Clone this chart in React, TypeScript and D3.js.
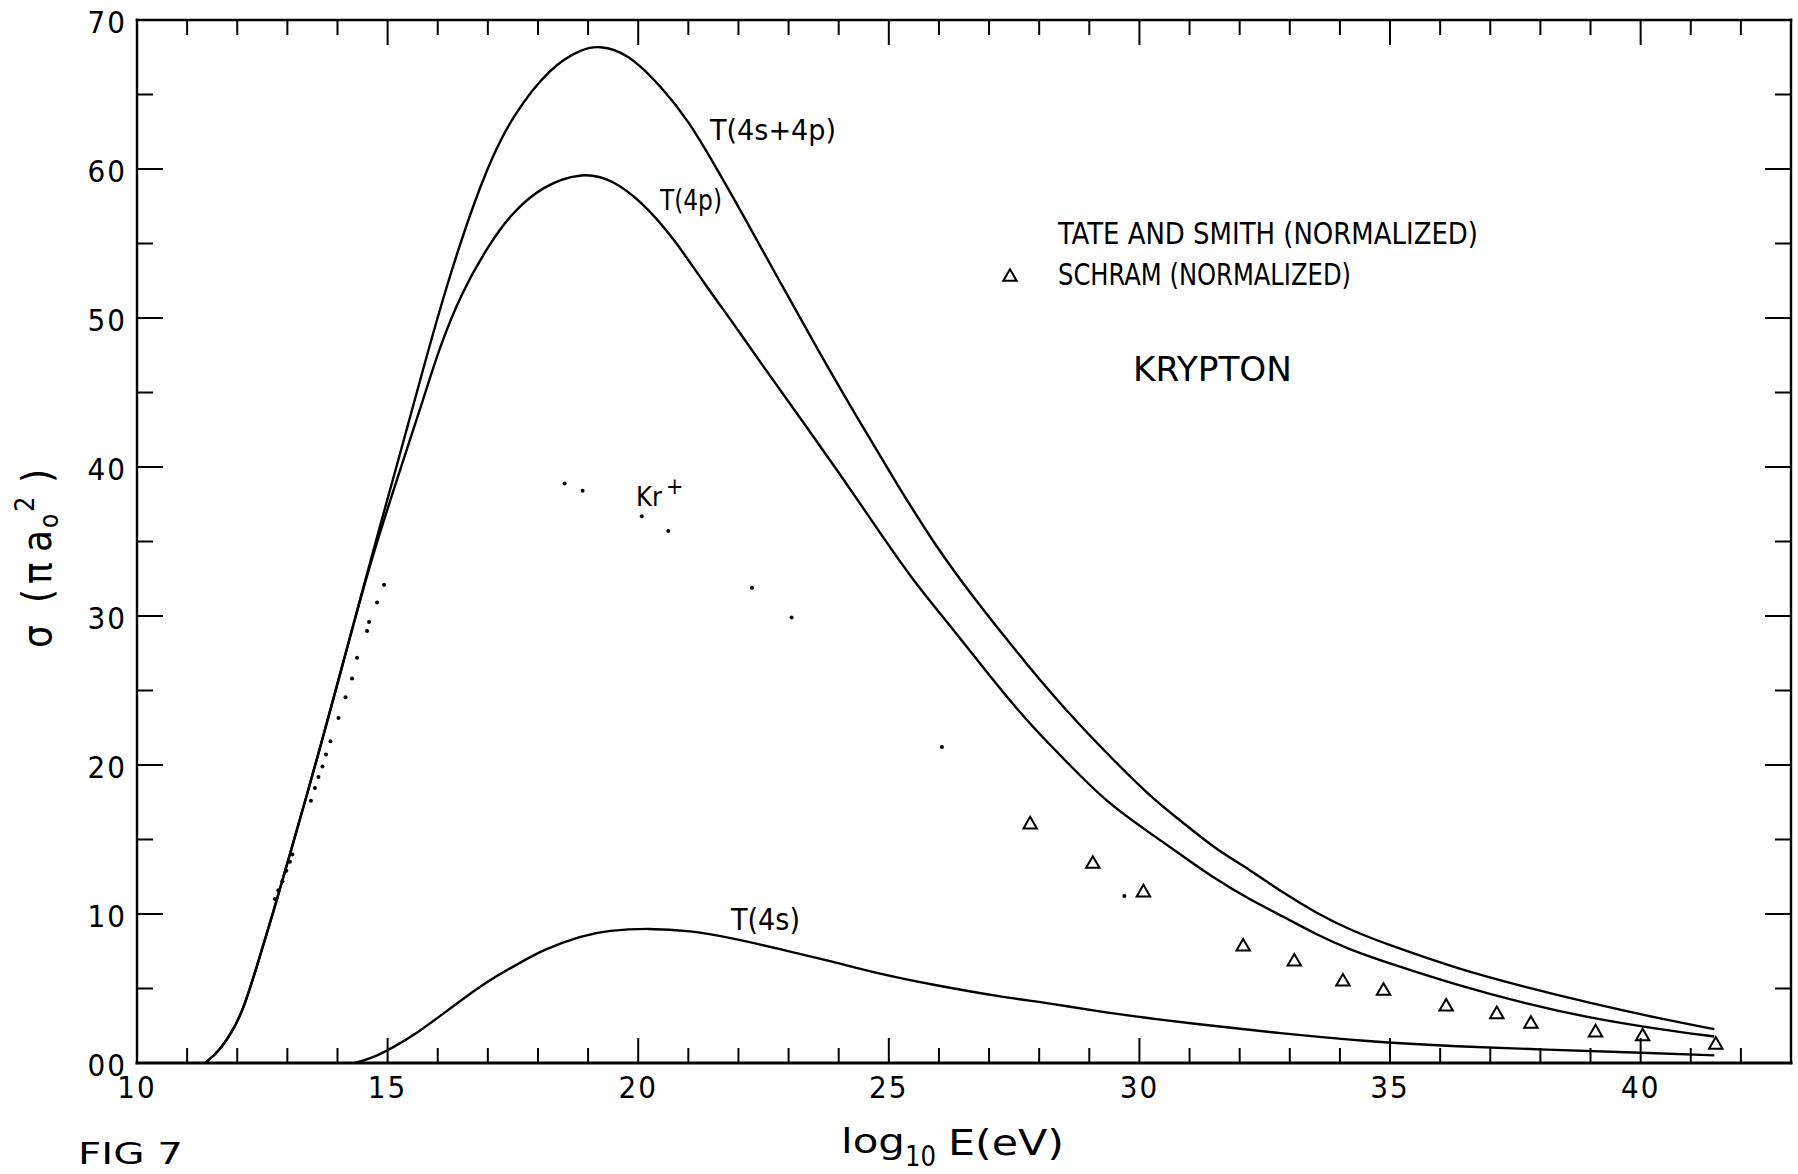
import React from 'react';
import * as d3 from 'd3';

const W = 1798;
const H = 1174;

// T(4s+4p) curve
const T4S4P: [number, number][] = [
  [11.36, 0], [11.63, 0.76], [11.9, 2.1], [12.12, 3.56], [12.39, 6.47], [12.7, 9.9],
  [13.06, 14.1], [13.5, 19.3], [13.9, 24.2], [14.33, 29.6], [14.73, 34.6], [15.2, 40.3],
  [15.55, 44.6], [15.98, 49.9], [16.44, 55.0], [16.98, 60.1], [17.49, 63.6], [18.26, 66.9],
  [18.87, 68.05], [19.21, 68.3], [19.79, 67.8], [20.47, 65.5], [21.01, 63.2], [21.47, 60.6],
  [22.08, 57.0], [22.84, 52.35], [23.61, 47.7], [24.37, 43.3], [25.14, 38.97], [25.9, 34.86],
  [26.67, 31.3], [27.81, 26.5], [28.71, 23.0], [29.55, 20.1], [30.21, 17.9], [30.88, 16.1],
  [31.54, 14.3], [32.21, 12.96], [32.87, 11.4], [33.54, 10.05], [34.2, 8.93], [35.0, 7.89],
  [36.34, 6.33], [37.68, 5.11], [39.02, 4.0], [40.36, 3.0], [41.47, 2.27],
];

// T(4p) curve
const T4P: [number, number][] = [
  [11.36, 0], [11.63, 0.76], [11.9, 2.1], [12.12, 3.56], [12.39, 6.47], [12.7, 9.9],
  [13.06, 14.1], [13.5, 19.3], [13.9, 24.2], [14.33, 29.6], [14.73, 34.4], [15.2, 39.3],
  [15.71, 44.5], [16.01, 47.8], [16.47, 51.7], [17.0, 54.8], [17.46, 57.0], [18.1, 58.9],
  [18.9, 59.8], [19.48, 59.3], [20.09, 57.75], [20.7, 55.4], [21.31, 52.35], [21.93, 49.5],
  [22.46, 46.9], [23.23, 43.3], [23.99, 39.7], [24.76, 35.9], [25.52, 32.2], [26.29, 29.1],
  [27.05, 25.8], [27.82, 22.7], [28.58, 20.1], [29.34, 17.5], [30.21, 15.43], [30.88, 13.85],
  [31.54, 12.29], [32.21, 10.95], [32.87, 9.83], [33.54, 8.6], [34.2, 7.6], [35.0, 6.67],
  [36.34, 5.22], [37.68, 4.0], [39.02, 3.0], [40.36, 2.27], [41.47, 1.78],
];

// T(4s) curve
const T4S: [number, number][] = [
  [14.34, 0], [14.69, 0.31], [15.14, 1.1], [15.58, 1.99], [16.03, 3.11], [16.56, 4.45],
  [17.09, 5.69], [17.63, 6.7], [18.1, 7.6], [18.87, 8.55], [19.4, 8.9], [20.2, 9.05],
  [21.03, 8.89], [21.9, 8.37], [22.89, 7.59], [23.89, 6.8], [24.76, 6.02], [25.89, 5.24],
  [27.22, 4.45], [28.22, 4.0], [29.2, 3.45], [30.21, 3.0], [30.98, 2.67], [32.77, 2.0],
  [34.55, 1.44], [36.34, 1.11], [38.13, 0.89], [39.9, 0.71], [41.47, 0.51],
];

// Tate and Smith (normalized) – dots
const TATE_SMITH: [number, number][] = [
  [12.75, 11.0], [12.82, 11.6], [12.9, 12.2], [12.98, 12.9], [13.05, 13.5], [13.1, 14.0],
  [13.47, 17.6], [13.55, 18.45], [13.62, 19.2], [13.7, 19.9], [13.77, 20.7], [13.86, 21.6],
  [14.02, 23.15], [14.16, 24.55], [14.29, 25.8], [14.39, 27.2], [14.59, 29.0], [14.63, 29.6],
  [14.79, 30.9], [14.93, 32.1], [18.53, 38.9], [18.89, 38.4], [20.07, 36.7], [20.6, 35.7],
  [22.27, 31.9], [23.06, 29.9], [26.06, 21.2], [29.7, 11.2],
];

// Schram (normalized) – triangles
const SCHRAM: [number, number][] = [
  [27.82, 16.0], [29.07, 13.36], [30.08, 11.44], [32.07, 7.81], [33.09, 6.8], [34.06, 5.46],
  [34.87, 4.84], [36.12, 3.78], [37.13, 3.27], [37.81, 2.62], [39.1, 2.04], [40.04, 1.78],
  [41.5, 1.22],
];

const X_TICK_LABELS = [10, 15, 20, 25, 30, 35, 40];
const Y_TICK_LABELS: { v: number; t: string }[] = [
  { v: 70, t: '70' }, { v: 60, t: '60' }, { v: 50, t: '50' }, { v: 40, t: '40' },
  { v: 30, t: '30' }, { v: 20, t: '20' }, { v: 10, t: '10' }, { v: 0, t: '00' },
];

const FONT = "'Liberation Sans Narrow', 'DejaVu Sans Condensed', 'Liberation Sans', Arial, sans-serif";

export default function App() {
  const L = 137, R = 1791, T = 20, B = 1063;
  const x = d3.scaleLinear().domain([10, 43]).range([L, R]);
  const y = d3.scaleLinear().domain([0, 70]).range([B, T]);

  const line = d3
    .line<[number, number]>()
    .x((d) => x(d[0]))
    .y((d) => y(d[1]))
    .curve(d3.curveBasis);

  const xTicks = d3.range(11, 43);
  const yTicks = d3.range(5, 70, 5);
  const tri = d3.symbol(d3.symbolTriangle, 78)() as string;

  return (
    <svg
      width={W}
      height={H}
      viewBox={`0 0 ${W} ${H}`}
      style={{ position: 'absolute', left: 0, top: 0, background: '#fff' }}
      fontFamily={FONT}
    >
      <rect x={0} y={0} width={W} height={H} fill="#fff" />

      {/* frame */}
      <g stroke="#000" strokeLinecap="square">
        <line x1={L} y1={T} x2={R} y2={T} strokeWidth={2.6} />
        <line x1={L} y1={B} x2={R} y2={B} strokeWidth={3} />
        <line x1={L} y1={T} x2={L} y2={B} strokeWidth={2.4} />
        <line x1={R} y1={T} x2={R} y2={B} strokeWidth={2.4} />
      </g>

      {/* x ticks (bottom and top, inward) */}
      <g stroke="#000" strokeWidth={2}>
        {xTicks.map((v) => {
          const major = v % 5 === 0;
          const len = major ? 25 : 15;
          return (
            <g key={`xt${v}`}>
              <line x1={x(v)} x2={x(v)} y1={B} y2={B - len} />
              <line x1={x(v)} x2={x(v)} y1={T} y2={T + len} />
            </g>
          );
        })}
      </g>

      {/* y ticks (left and right, inward) */}
      <g stroke="#000" strokeWidth={2}>
        {yTicks.map((v) => {
          const major = v % 10 === 0;
          const len = major ? 26 : 16;
          return (
            <g key={`yt${v}`}>
              <line x1={L} x2={L + len} y1={y(v)} y2={y(v)} />
              <line x1={R} x2={R - len} y1={y(v)} y2={y(v)} />
            </g>
          );
        })}
      </g>

      {/* tick labels */}
      <g fontSize={31} fill="#000">
        {Y_TICK_LABELS.map((d) => (
          <text key={`yl${d.v}`} x={127} y={y(d.v) + 13} textAnchor="end" letterSpacing={2}>
            {d.t}
          </text>
        ))}
        {X_TICK_LABELS.map((v) => (
          <text key={`xl${v}`} x={x(v)} y={1098} textAnchor="middle" letterSpacing={2}>
            {v}
          </text>
        ))}
      </g>

      {/* curves */}
      <g fill="none" stroke="#000" strokeWidth={2.4} strokeLinejoin="round">
        <path d={line(T4S4P) as string} />
        <path d={line(T4P) as string} />
        <path d={line(T4S) as string} />
      </g>

      {/* Tate and Smith dots */}
      <g fill="#000">
        {TATE_SMITH.map((d, i) => (
          <circle key={`ts${i}`} cx={x(d[0])} cy={y(d[1])} r={2} />
        ))}
      </g>

      {/* Schram triangles */}
      <g fill="none" stroke="#000" strokeWidth={2}>
        {SCHRAM.map((d, i) => (
          <path key={`sc${i}`} d={tri} transform={`translate(${x(d[0])},${y(d[1])})`} />
        ))}
        <path d={tri} transform="translate(1010,277)" />
      </g>

      {/* curve labels */}
      <g fill="#000">
        <text x={710} y={140} fontSize={29} textLength={126} lengthAdjust="spacingAndGlyphs">T(4s+4p)</text>
        <text x={660} y={210} fontSize={28} textLength={62} lengthAdjust="spacingAndGlyphs">T(4p)</text>
        <text x={731} y={930} fontSize={30} textLength={69} lengthAdjust="spacingAndGlyphs">T(4s)</text>
        <text x={636} y={506} fontSize={27}>Kr</text>
        <text x={666} y={494} fontSize={23}>+</text>
      </g>

      {/* legend */}
      <g fill="#000">
        <text x={1058} y={244} fontSize={31} textLength={420} lengthAdjust="spacingAndGlyphs">
          TATE  AND SMITH  (NORMALIZED)
        </text>
        <text x={1058} y={285} fontSize={31} textLength={293} lengthAdjust="spacingAndGlyphs">
          SCHRAM (NORMALIZED)
        </text>
        <text x={1133} y={381} fontSize={34} textLength={159} lengthAdjust="spacingAndGlyphs">
          KRYPTON
        </text>
      </g>

      {/* y-axis title */}
      <g transform="translate(51,557) rotate(-90)" fill="#000">
        <text y={0} fontSize={40}>
          <tspan x={-91}>σ</tspan>
          <tspan x={-46}>(</tspan>
          <tspan x={-27}>π</tspan>
          <tspan x={5}>a</tspan>
          <tspan x={29} y={7} fontSize={26}>o</tspan>
          <tspan x={45} y={-17} fontSize={27}>2</tspan>
          <tspan x={74} y={0}>)</tspan>
        </text>
      </g>

      {/* x-axis title */}
      <g fill="#000">
        <text x={841} y={1153} fontSize={34} textLength={64} lengthAdjust="spacingAndGlyphs">log</text>
        <text x={905} y={1166} fontSize={28} textLength={31} lengthAdjust="spacingAndGlyphs">10</text>
        <text x={948} y={1155} fontSize={35} textLength={116} lengthAdjust="spacingAndGlyphs">E(eV)</text>
      </g>

      {/* figure caption */}
      <text x={78} y={1164} fontSize={30} textLength={105} lengthAdjust="spacingAndGlyphs" fill="#000">
        FIG 7
      </text>
    </svg>
  );
}
